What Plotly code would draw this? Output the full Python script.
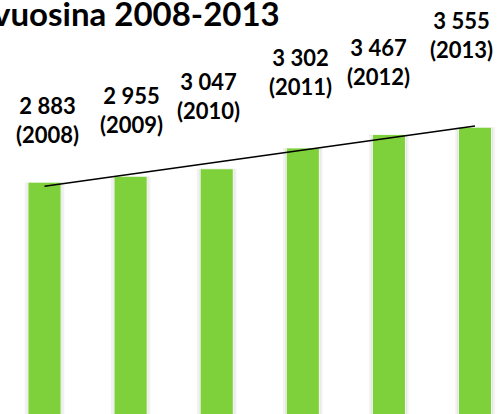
import numpy as np
import plotly.graph_objects as go

years = ["2008", "2009", "2010", "2011", "2012", "2013"]
values = [2883, 2955, 3047, 3302, 3467, 3555]
title_text = "vuosina 2008-2013"

# label placement tweaks (pixels)
label_dx = [2.5, 1, -8.5, -2, -10, -13]
label_dy = [32, 36, 43, 46, 42, 62]

xs = list(range(len(years)))
slope, intercept = np.polyfit(xs, values, 1)
trend = [intercept + slope * x for x in xs]

fig = go.Figure()
fig.add_trace(go.Bar(x=xs, y=values, width=0.46,
                     marker=dict(color="rgba(0,0,0,0.05)", line=dict(width=0)),
                     hoverinfo="skip", showlegend=False))
fig.add_trace(go.Bar(x=xs, y=values, width=0.41,
                     marker=dict(color="rgba(0,0,0,0.08)", line=dict(width=0)),
                     hoverinfo="skip", showlegend=False))
fig.add_trace(go.Bar(x=xs, y=values, width=0.385,
                     marker=dict(color="#7fd13b", line=dict(color="rgba(255,255,255,0.9)", width=1)),
                     showlegend=False))
fig.add_trace(go.Scatter(x=[xs[0], xs[-1]], y=[trend[0], trend[-1]], mode="lines",
                         line=dict(color="black", width=1.6), showlegend=False))

ann = []
for i, (y, v) in enumerate(zip(years, values)):
    num = f"{v:,}".replace(",", " ")
    ann.append(dict(x=xs[i], y=v, xref="x", yref="y", text=f"{num}<br>({y})",
                    showarrow=False, xanchor="center", yanchor="bottom",
                    xshift=label_dx[i], yshift=label_dy[i],
                    font=dict(family="Lato", size=22, color="black", weight="bold")))
ann.append(dict(x=282 / 499, y=1, xref="paper", yref="paper", text=title_text, showarrow=False,
                xanchor="right", yanchor="top", yshift=9,
                font=dict(family="Lato", size=33, color="black", weight="bold")))

fig.update_layout(
    width=499, height=414,
    margin=dict(l=0, r=0, t=0, b=0),
    paper_bgcolor="white", plot_bgcolor="white",
    barmode="overlay",
    annotations=ann,
    xaxis=dict(range=[-0.517, 5.279], visible=False),
    yaxis=dict(range=[49, 5110], visible=False),
)
fig.write_html("out.html", config={"displayModeBar": False},
               post_script="document.body.style.margin='0';document.body.style.overflow='hidden';")
